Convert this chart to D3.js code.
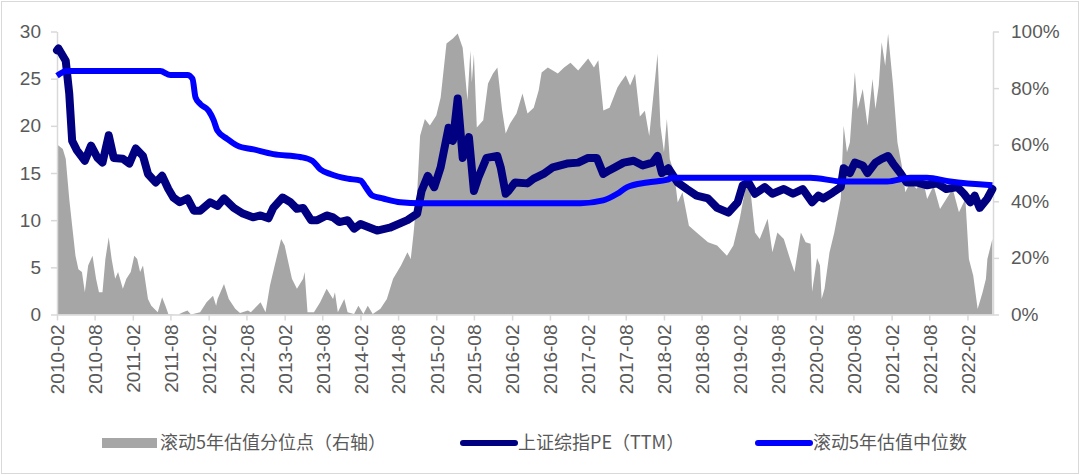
<!DOCTYPE html>
<html>
<head>
<meta charset="utf-8">
<title>PE chart</title>
<script src="https://d3js.org/d3.v7.min.js"></script>
<style>
  body { margin: 0; background: #fff; }
  svg { display: block; }
  text { font-family: "Liberation Sans", Arial, "Noto Sans CJK SC", sans-serif; fill: #595959; }
  .legend text { font-family: "Noto Sans CJK SC", "Liberation Sans", sans-serif; }
</style>
</head>
<body>
<svg id="chart"></svg>
<script>
const W = 1080, H = 475;

// 滚动5年估值分位点 (right axis, %)
const pctDates = ["2010-02-01","2010-02-08","2010-03-01","2010-03-15","2010-04-01","2010-04-15","2010-05-01","2010-05-15","2010-06-01","2010-06-15",
  "2010-07-01","2010-07-22","2010-08-08","2010-08-22","2010-09-08","2010-09-22","2010-10-08","2010-10-22","2010-11-08","2010-11-22",
  "2010-12-15","2011-01-01","2011-01-22","2011-02-08","2011-02-22","2011-03-08","2011-03-22","2011-04-15","2011-05-01","2011-06-01",
  "2011-06-22","2011-07-08","2011-07-22","2011-09-08","2011-10-01","2011-10-22","2011-11-08","2011-12-22","2012-01-22","2012-02-22",
  "2012-03-08","2012-03-15","2012-04-15","2012-05-08","2012-06-08","2012-07-01","2012-08-08","2012-08-22","2012-10-08","2012-11-01",
  "2012-11-22","2012-12-15","2013-01-15","2013-02-01","2013-02-15","2013-03-08","2013-04-01","2013-05-01","2013-05-08","2013-05-22",
  "2013-06-22","2013-07-22","2013-08-22","2013-09-22","2013-10-01","2013-10-15","2013-11-15","2013-12-01","2014-01-01","2014-01-22",
  "2014-02-15","2014-03-08","2014-04-01","2014-05-08","2014-06-08","2014-07-08","2014-08-15","2014-09-15","2014-10-01","2014-10-15",
  "2014-11-01","2014-11-15","2014-12-08","2015-01-01","2015-02-01","2015-02-22","2015-03-22","2015-04-22","2015-05-15","2015-06-08",
  "2015-07-01","2015-07-15","2015-07-22","2015-08-01","2015-08-15","2015-09-15","2015-10-08","2015-11-01","2015-11-22","2015-12-15",
  "2016-01-01","2016-01-22","2016-02-22","2016-03-22","2016-04-15","2016-05-15","2016-06-08","2016-06-22","2016-07-22","2016-09-08",
  "2016-10-08","2016-11-08","2016-12-15","2017-02-01","2017-03-01","2017-03-22","2017-04-15","2017-05-15","2017-06-22","2017-07-08",
  "2017-08-01","2017-08-22","2017-09-15","2017-10-08","2017-11-01","2017-11-22","2017-12-22","2018-01-01","2018-01-15","2018-02-01",
  "2018-02-15","2018-03-01","2018-03-22","2018-04-08","2018-05-01","2018-06-01","2018-07-08","2018-09-01","2018-10-15","2018-12-01",
  "2019-01-01","2019-02-01","2019-03-08","2019-03-22","2019-04-15","2019-05-08","2019-06-15","2019-07-08","2019-08-01","2019-09-01",
  "2019-10-01","2019-10-22","2019-11-22","2019-12-15","2020-01-08","2020-01-15","2020-02-08","2020-02-22","2020-03-01","2020-03-15",
  "2020-04-08","2020-05-01","2020-06-01","2020-06-15","2020-07-01","2020-07-15","2020-08-08","2020-08-22","2020-09-15","2020-10-08",
  "2020-11-01","2020-11-15","2020-12-01","2020-12-15","2021-01-01","2021-01-15","2021-02-08","2021-03-01","2021-03-22","2021-04-08",
  "2021-05-01","2021-06-01","2021-07-01","2021-07-22","2021-08-22","2021-09-22","2021-10-22","2021-11-22","2021-12-22","2022-01-22",
  "2022-02-08","2022-03-01","2022-03-22","2022-04-15","2022-05-01","2022-05-08","2022-06-01"];
const pctValues = [60, 59.7, 58.5, 55, 40.8, 31.4, 20.8, 16, 15, 7.9,
  17.3, 20.8, 12.6, 7.9, 7.9, 19.6, 27.3, 19.6, 12.6, 15,
  9.1, 12.6, 15, 20.8, 19.6, 15, 17.3, 5.5, 3.1, 0.8,
  6.1, 3.1, 0.2, 0, 0.8, 1.4, 0, 0.8, 4.3, 6.6,
  3.1, 5.5, 10.8, 5.5, 2, 0.5, 1.4, 0.8, 4.3, 0.8,
  10.2, 17.3, 26.7, 24.4, 19.6, 12.6, 9.1, 12.6, 15, 0.8,
  0.8, 4.3, 9.1, 5.5, 7.9, 0.8, 5.5, 0.8, 0.2, 3.1,
  0.2, 3.1, 0.2, 2, 5.5, 12.6, 17.3, 22, 19.6, 29,
  43.2, 63.2, 69.1, 66.8, 70.3, 76.7, 95.8, 97.5, 99.3, 94.3,
  75.6, 93.3, 82, 92, 66.1, 68.6, 81.6, 85.2, 87.3, 72.1,
  64, 67.5, 71, 78.1, 71, 73.1, 79.2, 85.5, 87.3, 85.2,
  87.3, 89, 86.2, 90.5, 87.3, 89.8, 72.1, 73.1, 80.2, 82.1,
  84.5, 80.9, 85.1, 70, 72, 63.1, 84.5, 92.1, 66.7, 57.3,
  69.1, 54.9, 50.2, 39.6, 43.2, 31.4, 29, 25.5, 24.4, 20.8,
  24.4, 33.8, 47.9, 45.5, 29, 26.7, 33.8, 22, 29, 26.7,
  19.6, 15, 29, 25.5, 25, 8, 20, 17.3, 5.5, 9.1,
  22, 29, 40.8, 66.7, 57.3, 60.8, 85.6, 72.6, 79.7, 66.7,
  83.2, 72.6, 80.9, 96.2, 87.9, 99.2, 80.9, 60.8, 52.6, 43.2,
  46.7, 44.4, 47.9, 40.8, 45.5, 37.3, 40.8, 44.4, 36.1, 40.8,
  19.6, 13.7, 1.9, 7.9, 12.6, 19.6, 26.7];

// 上证综指PE（TTM） (left axis)
const peDates = ["2010-02-01","2010-02-08","2010-03-15","2010-04-01","2010-04-15","2010-05-08","2010-06-15","2010-07-15","2010-08-15","2010-09-08",
  "2010-10-08","2010-11-01","2010-12-15","2011-01-15","2011-02-15","2011-03-22","2011-04-15","2011-05-22","2011-06-22","2011-07-22",
  "2011-08-15","2011-09-15","2011-10-22","2011-11-22","2011-12-22","2012-02-08","2012-03-15","2012-04-15","2012-06-01","2012-07-15",
  "2012-09-01","2012-10-08","2012-11-15","2012-12-08","2013-01-22","2013-03-01","2013-04-01","2013-05-01","2013-06-08","2013-07-08",
  "2013-08-22","2013-09-22","2013-10-22","2013-12-01","2014-01-01","2014-02-01","2014-04-22","2014-06-22","2014-09-15","2014-11-01",
  "2014-11-22","2014-12-22","2015-01-22","2015-02-22","2015-04-01","2015-04-22","2015-05-15","2015-06-08","2015-07-08","2015-08-01",
  "2015-08-22","2015-10-01","2015-11-22","2015-12-08","2016-01-01","2016-01-15","2016-02-15","2016-04-15","2016-05-15","2016-07-01",
  "2016-08-15","2016-10-22","2016-12-15","2017-02-01","2017-03-15","2017-04-15","2017-05-15","2017-07-22","2017-09-08","2017-10-22",
  "2017-12-08","2018-01-01","2018-01-22","2018-02-22","2018-04-08","2018-05-22","2018-07-08","2018-09-01","2018-10-15","2018-12-08",
  "2019-01-22","2019-02-15","2019-03-15","2019-04-15","2019-06-01","2019-07-08","2019-09-01","2019-10-15","2019-12-01","2020-01-15",
  "2020-02-15","2020-03-08","2020-04-22","2020-06-01","2020-06-15","2020-07-15","2020-08-08","2020-09-15","2020-10-08","2020-11-15",
  "2020-12-15","2021-01-15","2021-02-08","2021-03-15","2021-04-15","2021-06-01","2021-07-22","2021-09-08","2021-10-22","2021-12-15",
  "2022-01-15","2022-02-15","2022-03-08","2022-04-01","2022-05-08","2022-06-01"];
const peValues = [28.0, 28.2, 26.9, 23.4, 18.4, 17.4, 16.3, 17.9, 16.6, 16.1,
  19.0, 16.6, 16.5, 16.0, 17.6, 16.8, 14.9, 14.0, 14.7, 13.3,
  12.4, 11.9, 12.3, 11.0, 11.0, 11.9, 11.5, 12.3, 11.3, 10.7,
  10.3, 10.5, 10.2, 11.3, 12.4, 11.9, 11.2, 11.3, 10.0, 10.0,
  10.5, 10.3, 9.8, 10.0, 9.1, 9.6, 8.9, 9.2, 10.0, 10.7,
  13.1, 14.7, 13.5, 15.6, 19.8, 18.4, 22.9, 16.6, 18.8, 13.1,
  14.5, 16.6, 16.8, 15.6, 12.8, 13.1, 14.0, 13.9, 14.4, 14.9,
  15.6, 16.0, 16.1, 16.6, 16.6, 14.9, 15.3, 16.1, 16.3, 15.8,
  16.1, 16.8, 15.0, 15.5, 14.0, 13.3, 12.6, 12.3, 11.3, 10.8,
  11.9, 13.7, 14.0, 12.8, 13.5, 12.8, 13.3, 12.8, 13.3, 11.9,
  12.6, 12.3, 12.9, 13.5, 15.5, 15.0, 16.1, 15.8, 15.0, 16.1,
  16.5, 16.8, 16.0, 15.0, 14.0, 14.0, 13.7, 13.9, 13.3, 13.5,
  12.8, 11.9, 12.6, 11.3, 12.3, 13.3];

// 滚动5年估值中位数 (left axis)
const medDates = ["2010-02-01","2010-03-22","2011-06-13","2011-08-01","2011-10-22","2011-11-15","2011-11-30","2011-12-23","2012-02-01","2012-02-25",
  "2012-03-14","2012-05-01","2012-06-18","2012-09-04","2012-12-09","2013-04-17","2013-06-14","2013-07-22","2013-09-09","2013-12-01",
  "2014-02-02","2014-02-26","2014-03-30","2014-05-21","2014-08-12","2014-11-16","2016-12-26","2017-04-14","2017-06-21","2017-08-08",
  "2017-11-13","2018-02-18","2018-03-16","2020-01-06","2020-06-12","2021-01-11","2021-05-01","2021-07-21","2021-11-10","2022-06-01"];
const medValues = [25.3, 25.8, 25.8, 25.4, 25.4, 25.0, 23.0, 22.3, 21.6, 20.6,
  19.5, 18.6, 17.9, 17.5, 17.0, 16.7, 16.3, 15.4, 14.9, 14.4,
  14.2, 13.5, 12.6, 12.3, 11.9, 11.8, 11.8, 12.1, 12.8, 13.5,
  14.0, 14.3, 14.5, 14.5, 14.1, 14.1, 14.5, 14.5, 14.1, 13.7];

const xTickLabels = ["2010-02","2010-08","2011-02","2011-08","2012-02","2012-08","2013-02","2013-08","2014-02","2014-08",
  "2015-02","2015-08","2016-02","2016-08","2017-02","2017-08","2018-02","2018-08","2019-02","2019-08",
  "2020-02","2020-08","2021-02","2021-08","2022-02"];
const leftTicks = [0, 5, 10, 15, 20, 25, 30];
const rightTicks = [0, 0.2, 0.4, 0.6, 0.8, 1];

const legendItems = [
  { name: "滚动5年估值分位点（右轴）", kind: "area", color: "#a6a6a6" },
  { name: "上证综指PE（TTM）", kind: "line", color: "#000080" },
  { name: "滚动5年估值中位数", kind: "line", color: "#0000ff" }
];

const parseDay = d3.timeParse("%Y-%m-%d");
const parseMonth = d3.timeParse("%Y-%m");

const pct = pctDates.map((d, i) => ({ date: parseDay(d), v: pctValues[i] / 100 }));
const pe = peDates.map((d, i) => ({ date: parseDay(d), v: peValues[i] }));
const med = medDates.map((d, i) => ({ date: parseDay(d), v: medValues[i] }));

const svg = d3.select("#chart").attr("width", W).attr("height", H);

// outer frame
svg.append("rect")
  .attr("x", 1.5).attr("y", 1.5)
  .attr("width", W - 3).attr("height", H - 3)
  .attr("fill", "#fff").attr("stroke", "#d9d9d9");

const plotLeft = 57, plotRight = 993, plotTop = 31.5, plotBottom = 314.5;

const x = d3.scaleTime()
  .domain([parseDay("2010-02-01"), parseDay("2022-06-04")])
  .range([plotLeft, plotRight]);
const yL = d3.scaleLinear().domain([0, 30]).range([plotBottom, plotTop]);
const yR = d3.scaleLinear().domain([0, 1]).range([plotBottom, plotTop]);

// gray percentile area
svg.append("path")
  .datum(pct)
  .attr("fill", "#a6a6a6")
  .attr("d", d3.area().x(d => x(d.date)).y0(yR(0)).y1(d => yR(d.v)));

// axes
const axisColor = "#d9d9d9";

const gx = svg.append("g")
  .attr("transform", `translate(0,${plotBottom})`)
  .call(d3.axisBottom(x)
    .tickValues(xTickLabels.map(parseMonth))
    .tickFormat(d3.timeFormat("%Y-%m"))
    .tickSize(6).tickSizeOuter(0));
gx.selectAll("text")
  .attr("transform", "rotate(-90)")
  .attr("text-anchor", "end")
  .attr("x", -10).attr("y", 0).attr("dy", "0.36em")
  .style("font-size", "19px");

const gl = svg.append("g")
  .attr("transform", `translate(${plotLeft},0)`)
  .call(d3.axisLeft(yL).tickValues(leftTicks).tickSize(6).tickSizeOuter(0).tickPadding(10));
gl.selectAll("text").style("font-size", "19px");

const gr = svg.append("g")
  .attr("transform", `translate(${plotRight},0)`)
  .call(d3.axisRight(yR).tickValues(rightTicks).tickFormat(d3.format(".0%")).tickSize(6).tickSizeOuter(0).tickPadding(12));
gr.selectAll("text").style("font-size", "19px");

[gx, gl, gr].forEach(g => {
  g.select(".domain").attr("stroke", axisColor).attr("stroke-width", 1.5);
  g.selectAll(".tick line").attr("stroke", axisColor).attr("stroke-width", 1.5);
  g.selectAll("text").attr("fill", "#595959");
});

// lines
const lineL = d3.line().x(d => x(d.date)).y(d => yL(d.v));

svg.append("path")
  .datum(pe)
  .attr("fill", "none")
  .attr("stroke", "#000080")
  .attr("stroke-width", 8)
  .attr("stroke-linejoin", "round")
  .attr("stroke-linecap", "round")
  .attr("d", lineL);

svg.append("path")
  .datum(med)
  .attr("fill", "none")
  .attr("stroke", "#0000ff")
  .attr("stroke-width", 6)
  .attr("stroke-linejoin", "round")
  .attr("d", lineL.curve(d3.curveMonotoneX));

// legend
const legendX = [102, 460, 755];
const legendY = 443;
const lg = svg.append("g").attr("class", "legend");
legendItems.forEach((it, i) => {
  const g = lg.append("g").attr("transform", `translate(${legendX[i]},${legendY})`);
  if (it.kind === "area") {
    g.append("rect").attr("x", 0).attr("y", -5).attr("width", 55).attr("height", 10).attr("fill", it.color);
  } else {
    g.append("line").attr("x1", 3).attr("x2", 55).attr("y1", 0).attr("y2", 0)
      .attr("stroke", it.color).attr("stroke-width", 6).attr("stroke-linecap", "round");
  }
  g.append("text")
    .attr("x", 58).attr("y", 0).attr("dy", "0.35em")
    .style("font-size", "18px")
    .attr("fill", "#595959")
    .text(it.name);
});
</script>
</body>
</html>
